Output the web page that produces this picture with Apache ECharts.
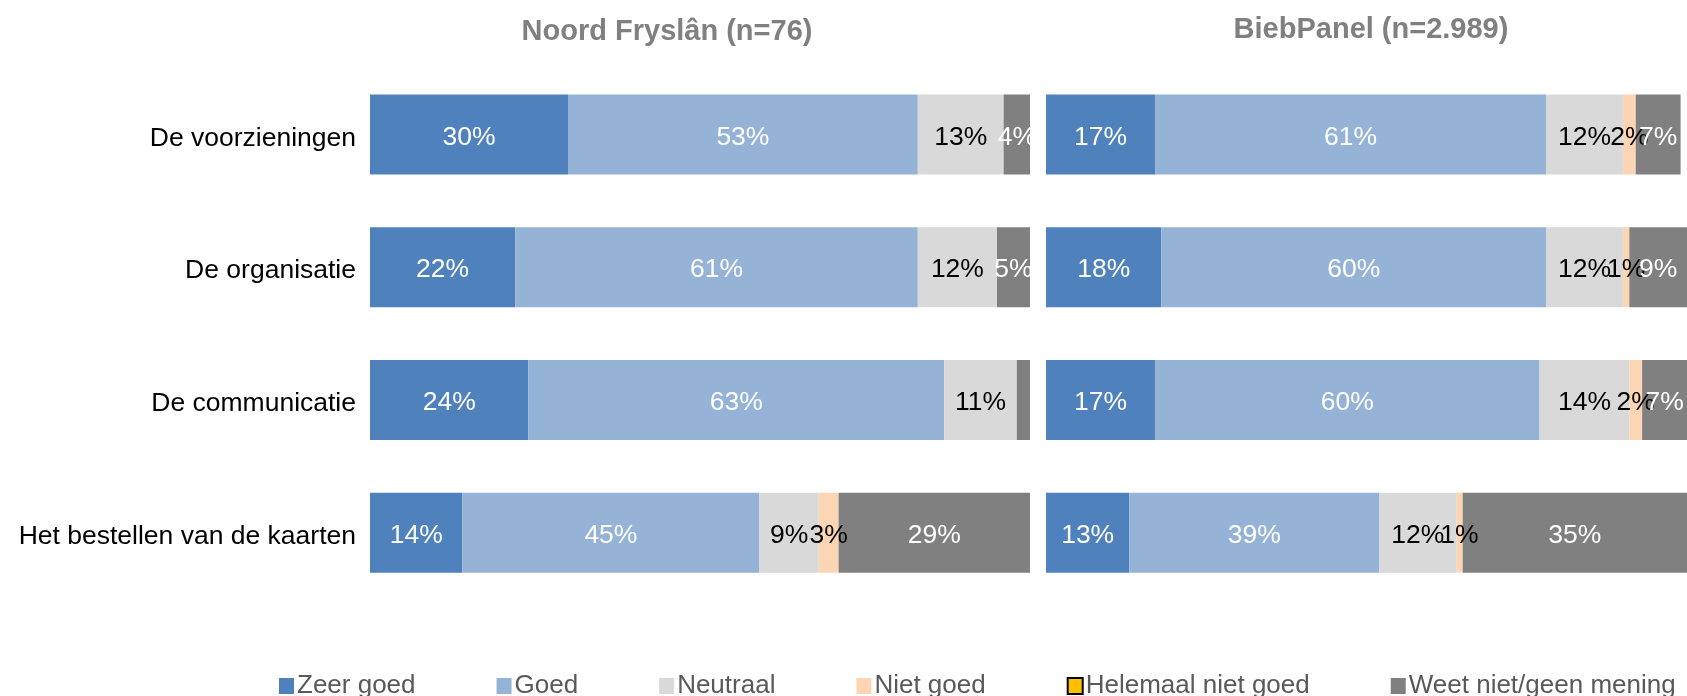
<!DOCTYPE html>
<html>
<head>
<meta charset="utf-8">
<title>Noord Fryslân / BiebPanel</title>
<script src="https://cdn.jsdelivr.net/npm/echarts@6/dist/echarts.min.js"></script>
<style>
  html, body { margin: 0; padding: 0; background: #fff; }
  #chart { width: 1687px; height: 696px; }
</style>
</head>
<body>
<div id="chart"></div>
<script>
// categories, top to bottom
var categories = ['De voorzieningen', 'De organisatie', 'De communicatie', 'Het bestellen van de kaarten'];
var seriesNames = ['Zeer goed', 'Goed', 'Neutraal', 'Niet goed', 'Helemaal niet goed', 'Weet niet/geen mening'];
var panelTitles = ['Noord Fryslân (n=76)', 'BiebPanel (n=2.989)'];

// Noord Fryslân (%)
var nfZeerGoed = [30, 22, 24, 14];
var nfGoed = [53, 61, 63, 45];
var nfNeutraal = [13, 12, 11, 9];
var nfNietGoed = [0, 0, 0, 3];
var nfHelemaalNiet = [0, 0, 0, 0];
var nfWeetNiet = [4, 5, 2, 29];

// BiebPanel (%)
var bpZeerGoed = [17, 18, 17, 13];
var bpGoed = [61, 60, 60, 39];
var bpNeutraal = [12, 12, 14, 12];
var bpNietGoed = [2, 1, 2, 1];
var bpHelemaalNiet = [0, 0, 0, 0];
var bpWeetNiet = [7, 9, 7, 35];

// segments whose label is not shown in the original (panel-series-row)
var hiddenLabels = ['0-5-2'];

var colors = ['#4F81BD', '#95B3D7', '#D9D9D9', '#FCD5B5', '#FFC000', '#808080'];
var labelColors = ['#fff', '#fff', '#000', '#000', '#000', '#fff'];

var panels = [
  [nfZeerGoed, nfGoed, nfNeutraal, nfNietGoed, nfHelemaalNiet, nfWeetNiet],
  [bpZeerGoed, bpGoed, bpNeutraal, bpNietGoed, bpHelemaalNiet, bpWeetNiet]
];

var font = 'Liberation Sans, Arial, sans-serif';

var series = [];
panels.forEach(function (panel, p) {
  panel.forEach(function (values, s) {
    series.push({
      name: seriesNames[s],
      type: 'bar',
      stack: 'panel' + p,
      xAxisIndex: p,
      yAxisIndex: p,
      barWidth: 80,
      itemStyle: { color: colors[s] },
      label: {
        show: true,
        position: 'inside',
        offset: [0, 3],
        color: labelColors[s],
        fontSize: 26.5,
        fontFamily: font,
        formatter: function (param) {
          return param.value > 0 ? param.value + '%' : '';
        }
      },
      data: values.map(function (v, i) {
        var item = { value: v };
        if (hiddenLabels.indexOf(p + '-' + s + '-' + i) >= 0) {
          item.label = { show: false };
        }
        return item;
      })
    });
  });
});

var chart = echarts.init(document.getElementById('chart'));
var option = {
  animation: false,
  title: [
    {
      text: panelTitles[0],
      left: 662, top: 12,
      textAlign: 'center',
      textStyle: { fontSize: 29, fontWeight: 'bold', color: '#808080', fontFamily: font }
    },
    {
      text: panelTitles[1],
      left: 1366, top: 10,
      textAlign: 'center',
      textStyle: { fontSize: 29, fontWeight: 'bold', color: '#808080', fontFamily: font }
    }
  ],
  legend: {
    left: 274,
    top: 668,
    itemWidth: 15,
    itemHeight: 16,
    itemGap: 81,
    icon: 'rect',
    textStyle: { fontSize: 26, color: '#595959', fontFamily: font, padding: [0, 0, 0, -2] },
    data: seriesNames.map(function (n) {
      if (n === 'Helemaal niet goed') {
        return { name: n, itemStyle: { borderColor: '#000', borderWidth: 2 } };
      }
      return n;
    })
  },
  grid: [
    { left: 370, width: 660, top: 68, height: 531 },
    { left: 1046, width: 649, top: 68, height: 531 }
  ],
  xAxis: [
    { type: 'value', gridIndex: 0, min: 0, max: 100, show: false },
    { type: 'value', gridIndex: 1, min: 0, max: 100, show: false }
  ],
  yAxis: [
    {
      type: 'category', gridIndex: 0, inverse: true, data: categories,
      axisLine: { show: false }, axisTick: { show: false },
      axisLabel: {
        fontSize: 26.5, color: '#000', margin: 14, fontFamily: font,
        verticalAlign: 'top', lineHeight: 8
      }
    },
    {
      type: 'category', gridIndex: 1, inverse: true, data: categories,
      axisLine: { show: false }, axisTick: { show: false },
      axisLabel: { show: false }
    }
  ],
  series: series
};
chart.setOption(option);
</script>
</body>
</html>
